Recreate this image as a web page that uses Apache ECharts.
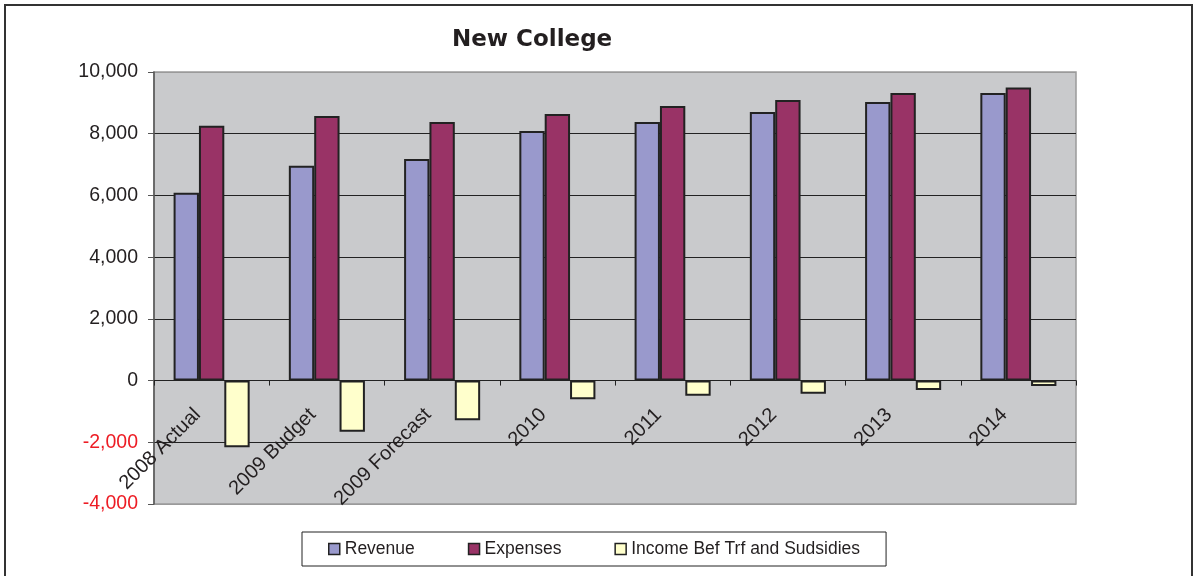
<!DOCTYPE html>
<html>
<head>
<meta charset="utf-8">
<script src="https://cdn.jsdelivr.net/npm/echarts@6/dist/echarts.min.js"></script>
<style>
  html, body { margin: 0; padding: 0; background: #fff; }
  #chart { width: 1196px; height: 576px; }
</style>
</head>
<body>
<div id="chart"></div>
<script>
// data
const categories = ['2008 Actual', '2009 Budget', '2009 Forecast', '2010', '2011', '2012', '2013', '2014'];
const revenue = [6090, 6960, 7180, 8090, 8380, 8700, 9030, 9320];
const expenses = [8260, 8575, 8380, 8640, 8900, 9090, 9320, 9500];
const income = [-2160, -1655, -1287, -606, -489, -425, -305, -175];

const FONT = '"Liberation Sans", Arial, sans-serif';

// plot box, zero line sits 10/14 of the way down
const GRID_TOP = 72;
const GRID_H = 432;
const zeroShift = -(GRID_H - GRID_H * 10 / 14);

const chart = echarts.init(document.getElementById('chart'));

function fmt(v) {
  return v.toLocaleString('en-US');
}

chart.setOption({
  animation: false,
  backgroundColor: '#fff',
  title: {
    text: 'New College',
    left: 447,
    top: 24,
    textStyle: {
      fontFamily: '"DejaVu Sans", sans-serif',
      fontWeight: 'bold',
      fontSize: 23,
      color: '#231f20'
    }
  },
  graphic: [{
    type: 'rect',
    shape: { x: 5, y: 5, width: 1187, height: 590 },
    style: { fill: 'none', stroke: '#333', lineWidth: 2 },
    silent: true
  }],
  legend: {
    data: ['Revenue', 'Expenses', 'Income Bef Trf and Sudsidies'],
    left: 302,
    top: 532,
    padding: [8, 26, 8, 26],
    itemGap: 53,
    itemWidth: 11,
    itemHeight: 11,
    borderColor: '#222',
    borderWidth: 1,
    icon: 'rect',
    itemStyle: { borderColor: '#222', borderWidth: 1.5 },
    textStyle: { fontFamily: FONT, fontSize: 17.5, color: '#231f20' }
  },
  grid: {
    left: 154,
    right: 120,
    top: GRID_TOP,
    height: GRID_H,
    outerBoundsMode: 'none',
    containLabel: false,
    show: true,
    backgroundColor: '#c9cacc',
    borderColor: '#9a9a9a',
    borderWidth: 1.5
  },
  xAxis: {
    type: 'category',
    data: categories,
    offset: zeroShift,
    axisLine: { onZero: false, lineStyle: { color: '#222', width: 1 } },
    axisTick: { show: true, length: 5, lineStyle: { color: '#222' } },
    axisLabel: {
      interval: 0,
      rotate: 45,
      margin: 17,
      padding: [0, 20, 0, 0],
      fontFamily: FONT,
      fontSize: 20,
      color: '#231f20'
    }
  },
  yAxis: {
    type: 'value',
    min: -4000,
    max: 10000,
    interval: 2000,
    axisLine: { show: true, lineStyle: { color: '#555', width: 1.5 } },
    axisTick: { show: true, length: 6, lineStyle: { color: '#555' } },
    axisLabel: {
      margin: 16,
      fontFamily: FONT,
      fontSize: 19.5,
      formatter: fmt,
      color: function (v) { return Number(v) < 0 ? '#ed1c24' : '#231f20'; }
    },
    splitLine: {
      lineStyle: {
        color: ['#9a9a9a', '#222', '#222', '#222', '#222', '#222', '#222', '#9a9a9a'],
        width: 1
      }
    }
  },
  series: [
    {
      name: 'Revenue',
      type: 'bar',
      data: revenue,
      barGap: '0%',
      barCategoryGap: '34%',
      itemStyle: { color: '#9999cc', borderColor: '#222', borderWidth: 2 }
    },
    {
      name: 'Expenses',
      type: 'bar',
      data: expenses,
      itemStyle: { color: '#993366', borderColor: '#222', borderWidth: 2 }
    },
    {
      name: 'Income Bef Trf and Sudsidies',
      type: 'bar',
      data: income,
      itemStyle: { color: '#ffffcc', borderColor: '#222', borderWidth: 2 }
    }
  ]
});
</script>
</body>
</html>
